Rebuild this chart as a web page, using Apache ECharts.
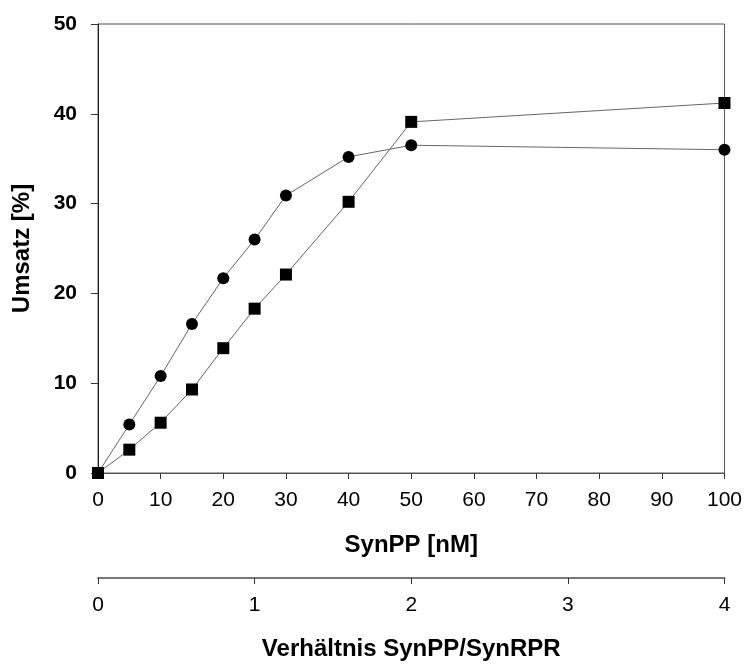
<!DOCTYPE html>
<html>
<head>
<meta charset="utf-8">
<script src="https://cdn.jsdelivr.net/npm/echarts@6/dist/echarts.min.js"></script>
<style>
    html, body { margin: 0; padding: 0; background: #fff; }
    #Root { width: 745px; height: 666px; }
</style>
</head>
<body>
<div id="Root"></div>
<script>
// SynPP-Konzentration [nM]
let SynPPValues = [0, 5, 10, 15, 20, 25, 30, 40, 50, 100]
// Umsatz [%], Kreise
let CircleValues = [0, 5.4, 10.8, 16.6, 21.7, 26.0, 30.9, 35.2, 36.5, 36.0]
// Umsatz [%], Quadrate
let SquareValues = [0, 2.6, 5.6, 9.3, 13.9, 18.3, 22.1, 30.2, 39.1, 41.2]
// Verhältnis SynPP/SynRPR Achse
let RatioTicks = [0, 1, 2, 3, 4]

let FontName = "'Liberation Sans', Arial, sans-serif"

function MakePairs(ys) {
    return SynPPValues.map((x, i) => [x, ys[i]])
}

let chart = echarts.init(document.getElementById("Root"))

let options = {
    animation: false,
    backgroundColor: '#fff',
    grid: {
        left: 98,
        right: 18,
        top: 24,
        bottom: 189,
        show: true,
        borderColor: '#555',
        borderWidth: 1
    },
    xAxis: [
        {
            type: 'value',
            min: 0,
            max: 100,
            interval: 10,
            name: 'SynPP [nM]',
            nameLocation: 'middle',
            nameGap: 60,
            nameTextStyle: { fontFamily: FontName, fontSize: 24, fontWeight: 'bold', color: '#000' },
            axisLine: { lineStyle: { color: '#555', width: 1 } },
            axisTick: { length: 6, lineStyle: { color: '#333' } },
            axisLabel: { fontFamily: FontName, fontSize: 21, color: '#000', margin: 17 },
            splitLine: { show: false }
        },
        {
            type: 'value',
            position: 'bottom',
            offset: 105,
            min: RatioTicks[0],
            max: RatioTicks[RatioTicks.length - 1],
            interval: 1,
            name: 'Verhältnis SynPP/SynRPR',
            nameLocation: 'middle',
            nameGap: 59,
            nameTextStyle: { fontFamily: FontName, fontSize: 24, fontWeight: 'bold', color: '#000' },
            axisLine: { show: true, lineStyle: { color: '#777', width: 2 } },
            axisTick: { show: true, length: 6, lineStyle: { color: '#333' } },
            axisLabel: { fontFamily: FontName, fontSize: 21, color: '#000', margin: 17 },
            splitLine: { show: false }
        }
    ],
    yAxis: {
        type: 'value',
        min: 0,
        max: 50,
        interval: 10,
        name: 'Umsatz [%]',
        nameLocation: 'middle',
        nameGap: 64,
        nameTextStyle: { fontFamily: FontName, fontSize: 24, fontWeight: 'bold', color: '#000' },
        axisLine: { show: true, lineStyle: { color: '#222', width: 1 } },
        axisTick: { show: true, length: 7, lineStyle: { color: '#333' } },
        axisLabel: { fontFamily: FontName, fontSize: 21, fontWeight: 'bold', color: '#000', margin: 21 },
        splitLine: { show: false }
    },
    series: [
        {
            name: 'Kreise',
            type: 'line',
            xAxisIndex: 0,
            data: MakePairs(CircleValues),
            symbol: 'circle',
            symbolSize: 12,
            lineStyle: { color: '#666', width: 1 },
            itemStyle: { color: '#000' }
        },
        {
            name: 'Quadrate',
            type: 'line',
            xAxisIndex: 0,
            data: MakePairs(SquareValues),
            symbol: 'rect',
            symbolSize: 12,
            lineStyle: { color: '#666', width: 1 },
            itemStyle: { color: '#000' }
        }
    ]
}

chart.setOption(options)
</script>
</body>
</html>
